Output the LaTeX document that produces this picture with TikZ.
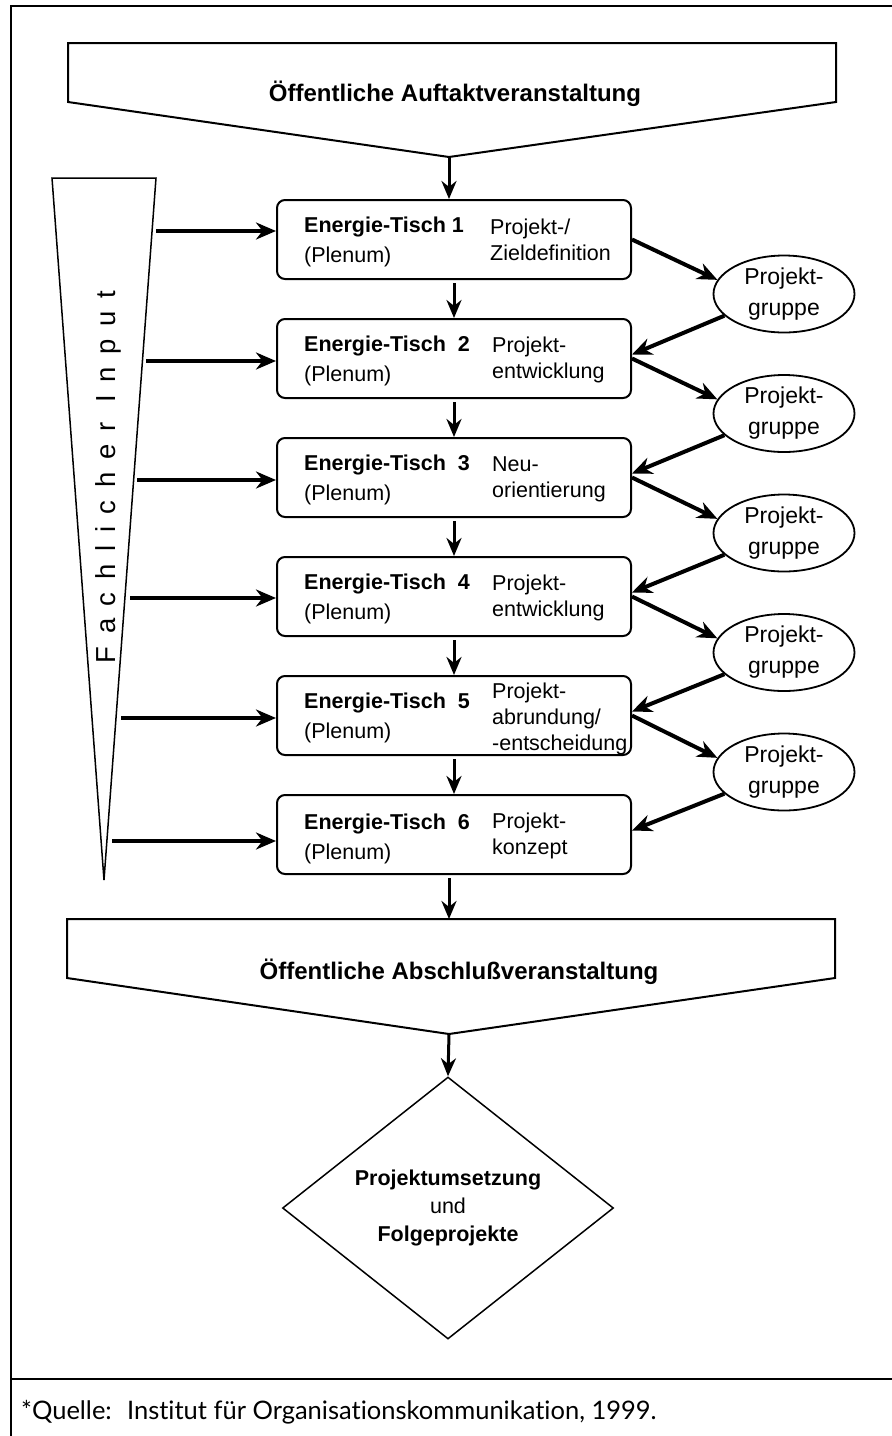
\documentclass[tikz,border=0pt]{standalone}
\usepackage{fontspec}
\setmainfont{Liberation Sans}
\newfontfamily\sperrfont[LetterSpace=46]{Liberation Sans}
\newfontfamily\quellefont[Ligatures=NoCommon]{Lato}
\usetikzlibrary{shapes.geometric, arrows.meta}

\begin{document}
\begin{tikzpicture}[x=1pt, y=-1pt,
    pfeil/.style={line width=4pt, -{Stealth[length=20pt, width=17pt]}},
    runter/.style={line width=3pt, -{Stealth[length=18pt, width=15pt]}, shorten <=3pt},
    tisch/.style={draw, line width=2pt, rounded corners=8pt, minimum width=354pt, minimum height=79pt, inner sep=0pt},
    txtL/.style={anchor=north west, align=left, inner sep=0pt, font=\fontsize{21.5}{30}\selectfont},
    txtR/.style={anchor=north west, align=left, inner sep=0pt, font=\fontsize{21.5}{26}\selectfont},
    gruppe/.style={draw, ellipse, line width=1.8pt, minimum width=141pt, minimum height=77pt, inner sep=0pt, align=center, font=\fontsize{23}{31}\selectfont},
    titel/.style={anchor=base, inner sep=0pt, font=\fontsize{24}{28}\selectfont\bfseries}]
    \useasboundingbox (0,0) rectangle (892,1436);

    % Rahmen und Quellenzeile
    \draw[line width=2.5pt] (892,6) -- (11,6) -- (11,1436);
    \draw[line width=2.5pt] (11,1379) -- (892,1379);
    \node[anchor=base west, inner sep=0pt, font=\quellefont\fontsize{25.5}{30}\selectfont] (quelle) at (21,1419)
        {*Quelle:~ Institut für Organisationskommunikation, 1999.};

    % Auftaktveranstaltung
    \coordinate (aufTip) at (449,157);
    \draw[line width=2pt] (68,43) -- (836,43) -- (836,102) -- (aufTip) -- (68,102) -- cycle;
    \node[titel] (auftakt) at (455,101) {Öffentliche Auftaktveranstaltung};

    % Fachlicher Input
    \draw[line width=1.5pt] (52,178) -- (156,178) -- (104,880) -- cycle;
    \node[rotate=90, inner sep=0pt, font=\sperrfont\fontsize{27.5}{30}\selectfont] (input) at (108,477) {Fachlicher Input};

    % Energie-Tische
    \node[tisch] (box1) at (454,239.5) {};
    \node[tisch] (box2) at (454,358.5) {};
    \node[tisch] (box3) at (454,477.5) {};
    \node[tisch] (box4) at (454,596.5) {};
    \node[tisch] (box5) at (454,715.5) {};
    \node[tisch] (box6) at (454,834.5) {};

    \node[txtL] (lab1) at ([xshift=28pt, yshift=-17.5pt]box1.north west) {\textbf{Energie-Tisch 1}\\(Plenum)};
    \node[txtL] (lab2) at ([xshift=28pt, yshift=-17.5pt]box2.north west) {\textbf{Energie-Tisch~~2}\\(Plenum)};
    \node[txtL] (lab3) at ([xshift=28pt, yshift=-17.5pt]box3.north west) {\textbf{Energie-Tisch~~3}\\(Plenum)};
    \node[txtL] (lab4) at ([xshift=28pt, yshift=-17.5pt]box4.north west) {\textbf{Energie-Tisch~~4}\\(Plenum)};
    \node[txtL] (lab5) at ([xshift=28pt, yshift=-17.5pt]box5.north west) {\textbf{Energie-Tisch~~5}\\(Plenum)};
    \node[txtL] (lab6) at ([xshift=28pt, yshift=-19.5pt]box6.north west) {\textbf{Energie-Tisch~~6}\\(Plenum)};

    \node[txtR] (ziel1) at ([xshift=214pt, yshift=-19.5pt]box1.north west) {Projekt-/\\Zieldefinition};
    \node[txtR] (ziel2) at ([xshift=216pt, yshift=-19pt]box2.north west) {Projekt-\\entwicklung};
    \node[txtR] (ziel3) at ([xshift=216pt, yshift=-19pt]box3.north west) {Neu-\\orientierung};
    \node[txtR] (ziel4) at ([xshift=216pt, yshift=-19pt]box4.north west) {Projekt-\\entwicklung};
    \node[txtR] (ziel5) at ([xshift=216pt, yshift=-7.5pt]box5.north west) {Projekt-\\abrundung/\\-entscheidung};
    \node[txtR] (ziel6) at ([xshift=216pt, yshift=-19pt]box6.north west) {Projekt-\\konzept};

    % Projektgruppen
    \node[gruppe] (grp1) at (784,294) {Projekt-\\gruppe};
    \node[gruppe] (grp2) at (784,413.5) {Projekt-\\gruppe};
    \node[gruppe] (grp3) at (784,533) {Projekt-\\gruppe};
    \node[gruppe] (grp4) at (784,652.5) {Projekt-\\gruppe};
    \node[gruppe] (grp5) at (784,772) {Projekt-\\gruppe};

    \draw[pfeil] (box1.east) -- (grp1.168);
    \draw[pfeil] (grp1.200) -- ([yshift=4pt]box2.east);
    \draw[pfeil] (box2.east) -- (grp2.168);
    \draw[pfeil] (grp2.200) -- ([yshift=4pt]box3.east);
    \draw[pfeil] (box3.east) -- (grp3.168);
    \draw[pfeil] (grp3.200) -- ([yshift=4pt]box4.east);
    \draw[pfeil] (box4.east) -- (grp4.168);
    \draw[pfeil] (grp4.200) -- ([yshift=4pt]box5.east);
    \draw[pfeil] (box5.east) -- (grp5.168);
    \draw[pfeil] (grp5.200) -- ([yshift=4pt]box6.east);

    % Input-Pfeile
    \coordinate (in1) at (156,231);
    \coordinate (in2) at (146,361);
    \coordinate (in3) at (137,480);
    \coordinate (in4) at (130,598);
    \coordinate (in5) at (121,718);
    \coordinate (in6) at (112,841);
    \draw[pfeil] (in1) -- (in1 -| box1.west);
    \draw[pfeil] (in2) -- (in2 -| box2.west);
    \draw[pfeil] (in3) -- (in3 -| box3.west);
    \draw[pfeil] (in4) -- (in4 -| box4.west);
    \draw[pfeil] (in5) -- (in5 -| box5.west);
    \draw[pfeil] (in6) -- (in6 -| box6.west);

    % Pfeile nach unten
    \draw[runter, shorten <=0pt] (aufTip) -- (aufTip |- box1.north);
    \draw[runter] (box1.south) -- (box2.north);
    \draw[runter] (box2.south) -- (box3.north);
    \draw[runter] (box3.south) -- (box4.north);
    \draw[runter] (box4.south) -- (box5.north);
    \draw[runter] (box5.south) -- (box6.north);

    % Abschlussveranstaltung
    \coordinate (abTop) at (449,919);
    \coordinate (abTip) at (449,1034);
    \draw[line width=2pt] (67,919) -- (835,919) -- (835,978) -- (abTip) -- (67,978) -- cycle;
    \node[titel] (abschluss) at (459,979) {Öffentliche Abschlußveranstaltung};
    \draw[runter] (box6.south -| abTop) -- (abTop);

    % Projektumsetzung
    \node[draw, diamond, aspect=1.26, line width=1.5pt, minimum width=331pt, minimum height=262pt, inner sep=0pt,
          align=center, font=\fontsize{21.5}{28}\selectfont] (umsetzung) at (448,1208)
        {\textbf{Projektumsetzung}\\und\\\textbf{Folgeprojekte}};
    \draw[runter, shorten <=0pt] (abTip) -- (umsetzung.north);
\end{tikzpicture}
\end{document}
